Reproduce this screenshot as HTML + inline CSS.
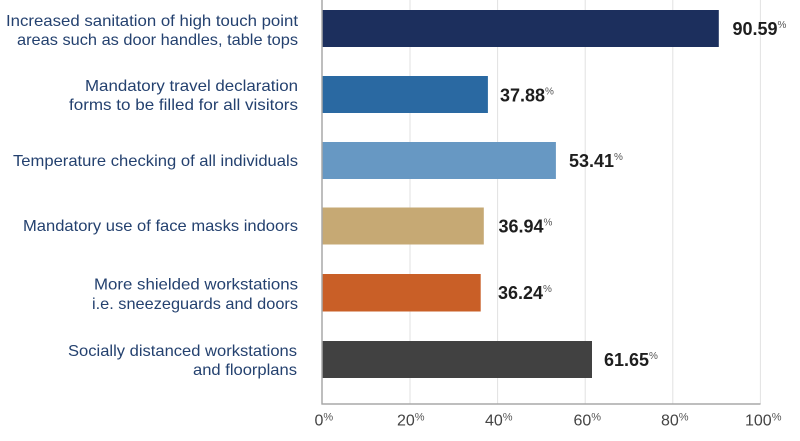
<!DOCTYPE html>
<html>
<head>
<meta charset="utf-8">
<style>
  html,body{margin:0;padding:0;background:#fff;}
  svg{display:block;}
  .lbl{font-family:"Liberation Sans",sans-serif;font-size:16px;fill:#24416f;}
  .val{font-family:"Liberation Sans",sans-serif;font-size:18px;font-weight:bold;fill:#1e1e1e;}
  .pct{font-size:10px;font-weight:normal;fill:#555;}
  .tick{font-family:"Liberation Sans",sans-serif;font-size:16px;fill:#444;}
  .tpct{font-size:11px;fill:#555;}
</style>
</head>
<body>
<svg width="800" height="441" viewBox="0 0 800 441" xmlns="http://www.w3.org/2000/svg">
  <rect width="800" height="441" fill="#fff"/>
  <!-- gridlines -->
  <g stroke="#e2e2e2" stroke-width="1">
    <line x1="410" y1="0" x2="410" y2="404"/>
    <line x1="497.6" y1="0" x2="497.6" y2="404"/>
    <line x1="585.2" y1="0" x2="585.2" y2="404"/>
    <line x1="672.8" y1="0" x2="672.8" y2="404"/>
    <line x1="760.4" y1="0" x2="760.4" y2="404"/>
  </g>
  <!-- bars -->
  <rect x="322" y="10" width="396.8" height="37" fill="#1c2f5d"/>
  <rect x="322" y="76" width="165.9" height="37" fill="#2a69a2"/>
  <rect x="322" y="142" width="233.9" height="37" fill="#6798c3"/>
  <rect x="322" y="207.5" width="161.8" height="37" fill="#c6a974"/>
  <rect x="322" y="274" width="158.7" height="37.5" fill="#c95f27"/>
  <rect x="322" y="341" width="270" height="37" fill="#414141"/>
  <!-- axes -->
  <line x1="322" y1="0" x2="322" y2="404.5" stroke="#a8a8a8" stroke-width="1.5"/>
  <line x1="321.5" y1="404" x2="760.5" y2="404" stroke="#a8a8a8" stroke-width="1.5"/>

  <!-- category labels -->
  <g class="lbl" text-anchor="end">
    <text x="298" y="26" textLength="292" lengthAdjust="spacingAndGlyphs">Increased sanitation of high touch point</text>
    <text x="298" y="45" textLength="281" lengthAdjust="spacingAndGlyphs">areas such as door handles, table tops</text>
    <text x="298" y="91" textLength="213" lengthAdjust="spacingAndGlyphs">Mandatory travel declaration</text>
    <text x="298" y="110" textLength="229" lengthAdjust="spacingAndGlyphs">forms to be filled for all visitors</text>
    <text x="298" y="166" textLength="285" lengthAdjust="spacingAndGlyphs">Temperature checking of all individuals</text>
    <text x="298" y="231" textLength="275" lengthAdjust="spacingAndGlyphs">Mandatory use of face masks indoors</text>
    <text x="298" y="289.5" textLength="204" lengthAdjust="spacingAndGlyphs">More shielded workstations</text>
    <text x="298" y="309" textLength="206" lengthAdjust="spacingAndGlyphs">i.e. sneezeguards and doors</text>
    <text x="297" y="356" textLength="229" lengthAdjust="spacingAndGlyphs">Socially distanced workstations</text>
    <text x="297" y="375" textLength="104" lengthAdjust="spacingAndGlyphs">and floorplans</text>
  </g>

  <!-- value labels -->
  <text class="val" x="732.5" y="35">90.59<tspan class="pct" dy="-7">%</tspan></text>
  <text class="val" x="500" y="101.5">37.88<tspan class="pct" dy="-7">%</tspan></text>
  <text class="val" x="569" y="167">53.41<tspan class="pct" dy="-7">%</tspan></text>
  <text class="val" x="498.5" y="232.5">36.94<tspan class="pct" dy="-7">%</tspan></text>
  <text class="val" x="498" y="299">36.24<tspan class="pct" dy="-7">%</tspan></text>
  <text class="val" x="604" y="366">61.65<tspan class="pct" dy="-7">%</tspan></text>

  <!-- tick labels -->
  <text class="tick" x="314.5" y="425.5">0<tspan class="tpct" dy="-5">%</tspan></text>
  <text class="tick" x="397" y="425.5">20<tspan class="tpct" dy="-5">%</tspan></text>
  <text class="tick" x="485" y="425.5">40<tspan class="tpct" dy="-5">%</tspan></text>
  <text class="tick" x="573.5" y="425.5">60<tspan class="tpct" dy="-5">%</tspan></text>
  <text class="tick" x="661" y="425.5">80<tspan class="tpct" dy="-5">%</tspan></text>
  <text class="tick" x="745" y="425.5">100<tspan class="tpct" dy="-5">%</tspan></text>
</svg>
</body>
</html>
